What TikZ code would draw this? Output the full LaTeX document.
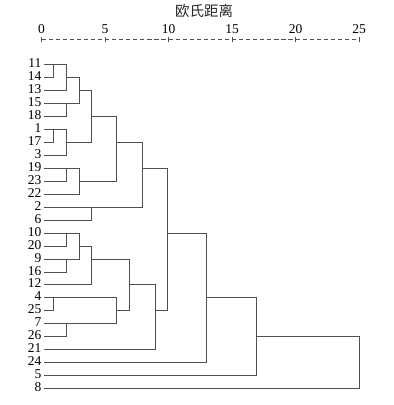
\documentclass[tikz,border=0pt]{standalone}
\usepackage{fontspec}
\setmainfont{Liberation Serif}
\newfontfamily\cjk{Noto Sans CJK SC}
\definecolor{linec}{HTML}{505050}
\begin{document}
\begin{tikzpicture}[x=1pt,y=-1pt,
  lab/.style={anchor=base east,inner sep=0pt,font=\fontsize{13.5}{15}\selectfont},
  ticklab/.style={anchor=base,inner sep=0pt,font=\fontsize{13.5}{15}\selectfont},
  tree/.style={draw=linec,line width=1.4pt},
  axisline/.style={draw=linec,line width=0.8pt,dash pattern=on 4.2pt off 2.855pt}]
\useasboundingbox (0,0) rectangle (394,405);
% title
\node[inner sep=0pt,font=\cjk\fontsize{14.5}{16}\selectfont,text=black!85] (title) at (204,11) {欧氏距离};
% axis
\foreach \v in {0,5,10,15,20,25}{
  \coordinate (tk\v) at ({41.5+12.7*\v},39.5);
  \node[ticklab] (tl\v) at ({41.5+12.7*\v},33.5) {\v};
}
\draw[axisline] (tk0) -- (tk25);
\foreach \v in {0,5,10,15,20,25}{
  \draw[linec,line width=0.8pt] ([yshift=-2.8pt]tk\v) -- ([yshift=2.8pt]tk\v);
}
\newcommand{\ry}[1]{{round(64+12.97*#1)+0.5}}
% leaves
\foreach \l [count=\i from 0] in {11,14,13,15,18,1,17,3,19,23,22,2,6,10,20,9,16,12,4,25,7,26,21,24,5,8}{
  \node[lab] (L\l) at (41.5,{round(64+12.97*\i)+3.3}) {\l};
  \coordinate (s\l) at (44,\ry{\i});
}
% merge points
\coordinate (ma) at (53.5,\ry{0});
\coordinate (mb) at (66.5,\ry{1});
\coordinate (mc) at (66.5,\ry{3});
\coordinate (md) at (79.5,\ry{2});
\coordinate (me) at (53.5,\ry{5});
\coordinate (mf) at (66.5,\ry{6});
\coordinate (mg) at (91.5,\ry{4});
\coordinate (mh) at (66.5,\ry{8});
\coordinate (mi) at (79.5,\ry{9});
\coordinate (mj) at (116.5,\ry{6});
\coordinate (mk) at (91.5,\ry{11});
\coordinate (ml) at (142.5,\ry{8});
\coordinate (mm) at (66.5,\ry{13});
\coordinate (mn) at (66.5,\ry{15});
\coordinate (mo) at (79.5,\ry{14});
\coordinate (mp) at (91.5,\ry{15});
\coordinate (mq) at (53.5,\ry{18});
\coordinate (mr) at (66.5,\ry{20});
\coordinate (ms) at (116.5,\ry{19});
\coordinate (mt) at (129.5,\ry{17});
\coordinate (mu) at (155.5,\ry{19});
\coordinate (mv) at (167.5,\ry{13});
\coordinate (mw) at (206.5,\ry{18});
\coordinate (mx) at (256.5,\ry{21});
\coordinate (my) at (359.5,\ry{23});
% connectors
\draw[tree] (s11) -| (ma) |- (s14);
\draw[tree] (ma) -| (mb) |- (s13);
\draw[tree] (s15) -| (mc) |- (s18);
\draw[tree] (mb) -| (md) |- (mc);
\draw[tree] (s1) -| (me) |- (s17);
\draw[tree] (me) -| (mf) |- (s3);
\draw[tree] (md) -| (mg) |- (mf);
\draw[tree] (s19) -| (mh) |- (s23);
\draw[tree] (mh) -| (mi) |- (s22);
\draw[tree] (mg) -| (mj) |- (mi);
\draw[tree] (s2) -| (mk) |- (s6);
\draw[tree] (mj) -| (ml) |- (mk);
\draw[tree] (s10) -| (mm) |- (s20);
\draw[tree] (s9) -| (mn) |- (s16);
\draw[tree] (mm) -| (mo) |- (mn);
\draw[tree] (mo) -| (mp) |- (s12);
\draw[tree] (s4) -| (mq) |- (s25);
\draw[tree] (s7) -| (mr) |- (s26);
\draw[tree] (mq) -| (ms) |- (mr);
\draw[tree] (mp) -| (mt) |- (ms);
\draw[tree] (mt) -| (mu) |- (s21);
\draw[tree] (ml) -| (mv) |- (mu);
\draw[tree] (mv) -| (mw) |- (s24);
\draw[tree] (mw) -| (mx) |- (s5);
\draw[tree] (mx) -| (my) |- (s8);
\end{tikzpicture}
\end{document}
